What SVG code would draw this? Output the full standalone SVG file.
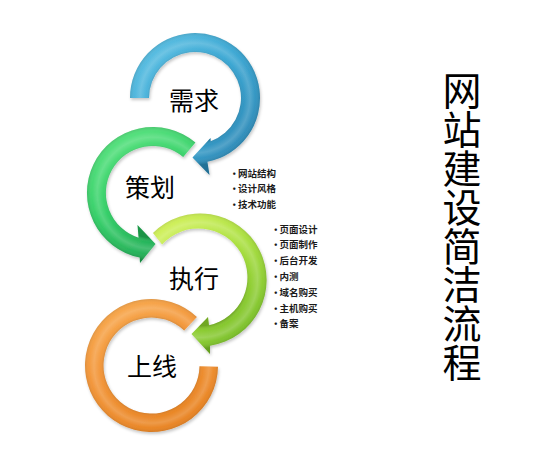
<svg xmlns="http://www.w3.org/2000/svg" width="543" height="450" viewBox="0 0 543 450">
<defs>
<style>
.lbl{font-family:"Noto Sans CJK SC","Noto Sans",sans-serif;font-size:25px;fill:#000;text-anchor:middle}
.bul{font-family:"Noto Sans CJK SC","Noto Sans",sans-serif;font-size:9.5px;font-weight:bold;fill:#1a1a1a}
.ttl{font-family:"Noto Sans CJK SC","Noto Sans",sans-serif;font-size:39px;fill:#000;writing-mode:vertical-rl;letter-spacing:-0.2px}
.bv{pointer-events:none}
</style>
<filter id="sh" x="-10%" y="-10%" width="130%" height="130%">
<feDropShadow dx="1" dy="2" stdDeviation="1.5" flood-color="#000" flood-opacity="0.22"/>
</filter>
<linearGradient id="gBlue" x1="0" y1="0" x2="1" y2="1">
<stop offset="0" stop-color="#5cc3e6"/><stop offset="0.5" stop-color="#32a2d0"/><stop offset="1" stop-color="#2279a8"/>
</linearGradient>
<linearGradient id="gGreen" x1="0.3" y1="0" x2="0.7" y2="1">
<stop offset="0" stop-color="#52e27a"/><stop offset="0.5" stop-color="#2ccd62"/><stop offset="1" stop-color="#17a34c"/>
</linearGradient>
<linearGradient id="gLime" x1="0" y1="0" x2="0.6" y2="1">
<stop offset="0" stop-color="#d9f45a"/><stop offset="0.5" stop-color="#a6de38"/><stop offset="1" stop-color="#74bd22"/>
</linearGradient>
<linearGradient id="gOrange" x1="0" y1="0" x2="0.5" y2="1">
<stop offset="0" stop-color="#f9aa4c"/><stop offset="0.5" stop-color="#f29232"/><stop offset="1" stop-color="#e8801c"/>
</linearGradient>
<radialGradient id="bvBlue" gradientUnits="userSpaceOnUse" cx="195" cy="98" r="67">
<stop offset="0.66" stop-color="#000" stop-opacity="0.2"/><stop offset="0.73" stop-color="#fff" stop-opacity="0.04"/><stop offset="0.82" stop-color="#fff" stop-opacity="0.2"/><stop offset="0.9" stop-color="#fff" stop-opacity="0.05"/><stop offset="1" stop-color="#000" stop-opacity="0.2"/>
</radialGradient>
<radialGradient id="bvGreen" gradientUnits="userSpaceOnUse" cx="153" cy="193" r="68">
<stop offset="0.66" stop-color="#000" stop-opacity="0.2"/><stop offset="0.73" stop-color="#fff" stop-opacity="0.04"/><stop offset="0.82" stop-color="#fff" stop-opacity="0.2"/><stop offset="0.9" stop-color="#fff" stop-opacity="0.05"/><stop offset="1" stop-color="#000" stop-opacity="0.2"/>
</radialGradient>
<radialGradient id="bvLime" gradientUnits="userSpaceOnUse" cx="200" cy="280" r="68.5">
<stop offset="0.67" stop-color="#000" stop-opacity="0.18"/><stop offset="0.74" stop-color="#fff" stop-opacity="0.04"/><stop offset="0.84" stop-color="#fff" stop-opacity="0.22"/><stop offset="0.91" stop-color="#fff" stop-opacity="0.05"/><stop offset="1" stop-color="#000" stop-opacity="0.18"/>
</radialGradient>
<radialGradient id="bvOrange" gradientUnits="userSpaceOnUse" cx="151.5" cy="365.5" r="68.5">
<stop offset="0.68" stop-color="#000" stop-opacity="0.18"/><stop offset="0.75" stop-color="#fff" stop-opacity="0.04"/><stop offset="0.84" stop-color="#fff" stop-opacity="0.2"/><stop offset="0.91" stop-color="#fff" stop-opacity="0.05"/><stop offset="1" stop-color="#000" stop-opacity="0.18"/>
</radialGradient>
</defs>
<rect width="543" height="450" fill="#fff"/>

<g id="node-shangxian">
<path id="ring-orange" filter="url(#sh)" fill="url(#gOrange)" d="M218,366.7 A66.5,66.5 0 1 1 196.9,316.9 L184.2,330.4 A48,48 0 1 0 199.5,366.3 Z"/>
<path class="bv" fill="url(#bvOrange)" d="M218,366.7 A66.5,66.5 0 1 1 196.9,316.9 L184.2,330.4 A48,48 0 1 0 199.5,366.3 Z"/>
<text class="lbl" x="152" y="376">上线</text>
</g>

<g id="node-zhixing">
<path id="ring-lime" filter="url(#sh)" fill="url(#gLime)" d="M153,233 A66.5,66.5 0 1 1 210,345.7 L210,354 L191.5,334 L208,317 L209,325.3 A49,49 0 1 0 162.1,244.6 Z"/>
<path class="bv" fill="url(#bvLime)" d="M153,233 A66.5,66.5 0 1 1 210,345.7 L210,354 L191.5,334 L208,317 L209,325.3 A49,49 0 1 0 162.1,244.6 Z"/>
<text class="lbl" x="194" y="288">执行</text>
</g>

<g id="node-cehua">
<path id="ring-green" filter="url(#sh)" fill="url(#gGreen)" d="M195.4,142.4 A66,66 0 1 0 139.7,257.6 L140,263 L155.5,244 L137.5,225 L138.6,237.7 A47,47 0 1 1 183.2,157 Z"/>
<path class="bv" fill="url(#bvGreen)" d="M195.4,142.4 A66,66 0 1 0 139.7,257.6 L140,263 L155.5,244 L137.5,225 L138.6,237.7 A47,47 0 1 1 183.2,157 Z"/>
<text class="lbl" x="150" y="196.5">策划</text>
</g>

<g id="node-xuqiu">
<path id="ring-blue" filter="url(#sh)" fill="url(#gBlue)" d="M130,98 A65,65 0 1 1 207.4,161.8 L209.5,175 L192.5,157.5 L210.5,138 L210.7,141.2 A46,46 0 1 0 149,98 Z"/>
<path class="bv" fill="url(#bvBlue)" d="M130,98 A65,65 0 1 1 207.4,161.8 L209.5,175 L192.5,157.5 L210.5,138 L210.7,141.2 A46,46 0 1 0 149,98 Z"/>
<text class="lbl" x="194" y="110">需求</text>
</g>

<g id="connectors"></g>

<g id="list-cehua">
<text class="bul" x="229.5" y="176.5"><tspan>•</tspan><tspan dx="-1">网站结构</tspan></text>
<text class="bul" x="229.5" y="192"><tspan>•</tspan><tspan dx="-1">设计风格</tspan></text>
<text class="bul" x="229.5" y="207.5"><tspan>•</tspan><tspan dx="-1">技术功能</tspan></text>
</g>

<g id="list-zhixing">
<text class="bul" x="271" y="232.5"><tspan>•</tspan><tspan dx="-1">页面设计</tspan></text>
<text class="bul" x="271" y="248.3"><tspan>•</tspan><tspan dx="-1">页面制作</tspan></text>
<text class="bul" x="271" y="264.1"><tspan>•</tspan><tspan dx="-1">后台开发</tspan></text>
<text class="bul" x="271" y="279.9"><tspan>•</tspan><tspan dx="-1">内测</tspan></text>
<text class="bul" x="271" y="295.7"><tspan>•</tspan><tspan dx="-1">域名购买</tspan></text>
<text class="bul" x="271" y="311.5"><tspan>•</tspan><tspan dx="-1">主机购买</tspan></text>
<text class="bul" x="271" y="327.3"><tspan>•</tspan><tspan dx="-1">备案</tspan></text>
</g>

<g id="title">
<text class="ttl" x="462" y="71">网站建设简洁流程</text>
</g>
</svg>
